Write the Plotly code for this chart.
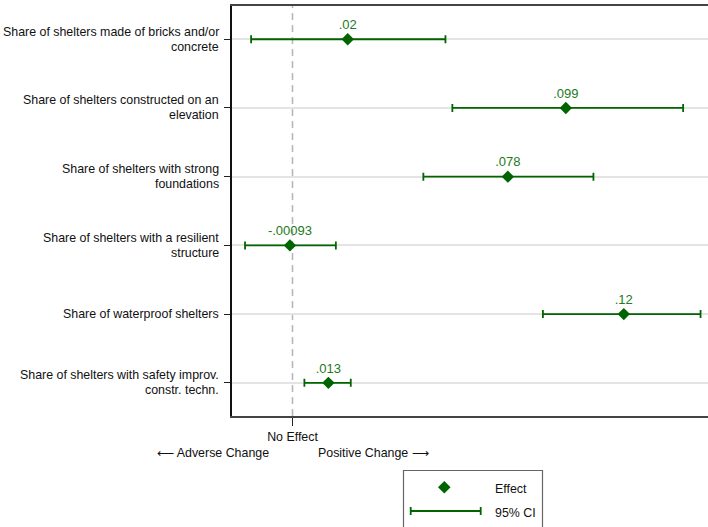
import plotly.graph_objects as go

# ---- data ----
categories = [
    "Share of shelters made of bricks and/or<br>concrete",
    "Share of shelters constructed on an<br>elevation",
    "Share of shelters with strong<br>foundations",
    "Share of shelters with a resilient<br>structure",
    "Share of waterproof shelters",
    "Share of shelters with safety improv.<br>constr. techn.",
]
effects = [0.02, 0.099, 0.078, -0.00093, 0.12, 0.013]
effect_labels = [".02", ".099", ".078", "-.00093", ".12", ".013"]
ci_low = [-0.0150, 0.0579, 0.0474, -0.0172, 0.0907, 0.0043]
ci_high = [0.0554, 0.1415, 0.1090, 0.0157, 0.1478, 0.0211]
x_tick_vals = [0]
x_tick_text = ["No Effect"]

# ---- geometry helpers (pixel -> paper) ----
W_FIG, H_FIG = 708, 527
L, R, T, B = 232, 708, 6, 416
PW, PH = R - L, B - T


def px(x):
    return (x - L) / PW


def py(y):
    return (B - y) / PH


DKGREEN = "#006400"
TXTGREEN = "#227a22"
FONT = "Liberation Sans, Arial, Helvetica, sans-serif"
FS = 12.4

fig = go.Figure()
fig.add_trace(go.Scatter(
    x=effects,
    y=categories,
    mode="markers+text",
    text=effect_labels,
    textposition="top center",
    textfont=dict(color=TXTGREEN, size=FS + 0.6, family=FONT),
    marker=dict(symbol="diamond", size=9.5, color=DKGREEN),
    error_x=dict(
        type="data",
        symmetric=False,
        array=[h - e for h, e in zip(ci_high, effects)],
        arrayminus=[e - l for e, l in zip(effects, ci_low)],
        color=DKGREEN,
        thickness=1.8,
        width=4,
    ),
    showlegend=False,
    cliponaxis=False,
    hoverinfo="skip",
))

shapes = [
    # zero line
    dict(type="line", xref="x", yref="paper", x0=0, x1=0, y0=0, y1=1,
         line=dict(color="#b5b5b5", width=1.5, dash="7px,5px"), layer="below"),
    # legend box
    dict(type="rect", xref="paper", yref="paper",
         x0=px(403.5), x1=px(542.5), y0=py(535), y1=py(470.5),
         line=dict(color="#666666", width=1.2), fillcolor="white"),
    # legend diamond
    dict(type="path", xref="paper", yref="paper",
         path=("M {a},{b} L {c},{d} L {e},{f} L {g},{h} Z").format(
             a=px(444.3 - 6.3), b=py(487.3),
             c=px(444.3), d=py(487.3 - 6.3),
             e=px(444.3 + 6.3), f=py(487.3),
             g=px(444.3), h=py(487.3 + 6.3)),
         fillcolor=DKGREEN, line=dict(width=0)),
    # legend CI line and caps
    dict(type="line", xref="paper", yref="paper",
         x0=px(410.7), x1=px(480.7), y0=py(511), y1=py(511),
         line=dict(color=DKGREEN, width=1.8)),
    dict(type="line", xref="paper", yref="paper",
         x0=px(410.7), x1=px(410.7), y0=py(507), y1=py(515),
         line=dict(color=DKGREEN, width=1.8)),
    dict(type="line", xref="paper", yref="paper",
         x0=px(480.7), x1=px(480.7), y0=py(507), y1=py(515),
         line=dict(color=DKGREEN, width=1.8)),
]

txtfont = dict(size=FS, color="#111111", family=FONT)
annotations = [
    dict(text="\u27f5 Adverse Change", xref="paper", yref="paper",
         x=px(270.5), y=py(453), xanchor="right", yanchor="middle",
         showarrow=False, font=txtfont),
    dict(text="Positive Change \u27f6", xref="paper", yref="paper",
         x=px(315.5), y=py(453), xanchor="left", yanchor="middle",
         showarrow=False, font=txtfont),
    dict(text="Effect", xref="paper", yref="paper",
         x=px(492.5), y=py(488.5), xanchor="left", yanchor="middle",
         showarrow=False, font=txtfont),
    dict(text="95% CI", xref="paper", yref="paper",
         x=px(492.5), y=py(512.5), xanchor="left", yanchor="middle",
         showarrow=False, font=txtfont),
]

# y-axis category labels, one annotation per line for tight line spacing
LINE_GAP = 15
for cat in categories:
    lines = cat.split("<br>")
    n = len(lines)
    for i, ln in enumerate(lines):
        annotations.append(dict(
            text=ln, xref="paper", yref="y", x=0, y=cat,
            xanchor="right", yanchor="middle", xshift=-11,
            yshift=((n - 1) / 2 - i) * LINE_GAP,
            showarrow=False, font=txtfont,
        ))

fig.update_layout(
    width=W_FIG, height=H_FIG,
    margin=dict(l=L, r=W_FIG - R, t=T, b=H_FIG - B, pad=0),
    paper_bgcolor="white", plot_bgcolor="white",
    font=dict(family=FONT, size=FS, color="#111111"),
    shapes=shapes,
    annotations=annotations,
    showlegend=False,
    hovermode=False,
    xaxis=dict(
        range=[-0.02192, 0.1505],
        tickvals=x_tick_vals, ticktext=x_tick_text,
        ticks="outside", ticklen=8, tickwidth=1, tickcolor="#222222",
        showgrid=False, zeroline=False,
        showline=True, linecolor="#444444", linewidth=2, mirror=True,
        tickfont=txtfont,
    ),
    yaxis=dict(
        type="category",
        categoryorder="array", categoryarray=categories,
        range=[5.483, -0.484],
        ticks="outside", ticklen=6, tickwidth=1, tickcolor="#222222",
        showticklabels=False,
        showgrid=True, gridcolor="#e4e4e4", gridwidth=1.5,
        zeroline=False,
        showline=True, linecolor="#111111", linewidth=1.5,
    ),
)

fig.write_html(
    "out.html",
    config={"displayModeBar": False},
    post_script="document.body.style.margin='0';document.body.style.padding='0';"
                "document.body.style.overflow='hidden';",
)
